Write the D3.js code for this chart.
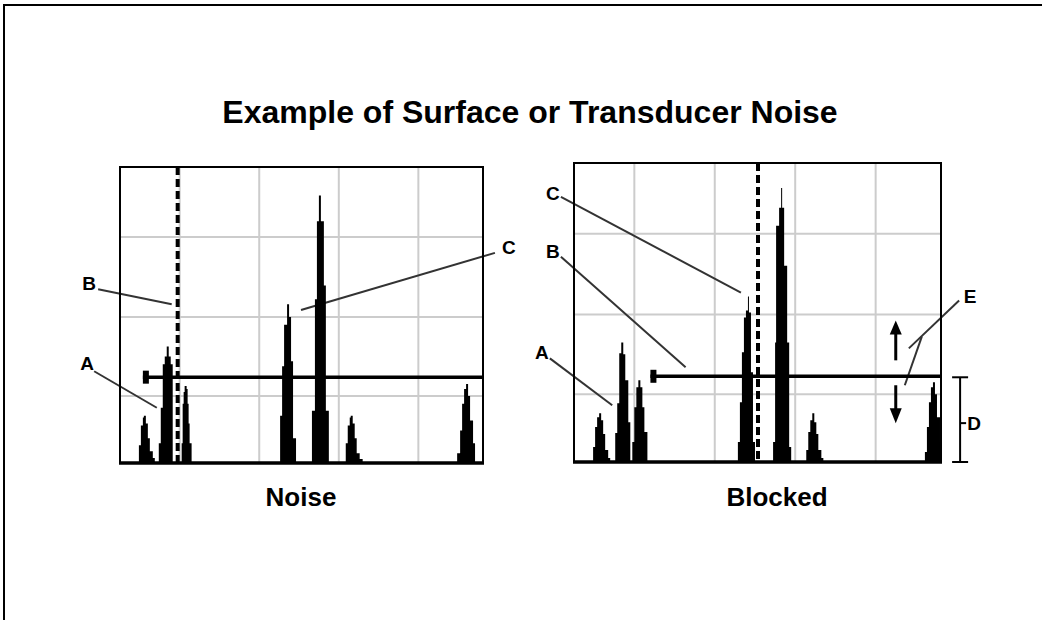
<!DOCTYPE html>
<html>
<head>
<meta charset="utf-8">
<script src="https://cdn.jsdelivr.net/npm/d3@7"></script>
<style>
  body { margin: 0; background: #fff; }
  svg text { font-family: Arial, "Liberation Sans", sans-serif; font-weight: bold; fill: #000; }
</style>
</head>
<body>
<svg width="1042" height="620"></svg>
<script>
// echo traces, x = sample position, y = amplitude (0..300)
var gridX = [60, 140, 220, 300];
var gridY = [68, 148, 229];

var noisePeaks = [
    [[19, 18], [21, 38], [23, 46], [24, 48], [26, 40], [28, 25], [30, 12], [33, 5], [35, 0]],
    [[39, 20], [41, 56], [43, 100], [45, 108], [47, 118], [49, 108], [51, 100], [53, 0]],
    [[62, 20], [63, 60], [64, 72], [65, 78], [67, 75], [68, 60], [69, 40], [70, 20], [72, 0]],
    [[161, 48], [163, 98], [165, 140], [168, 161], [170, 148], [172, 103], [174, 25], [177, 0]],
    [[193, 53], [196, 166], [198, 245], [200, 271], [202, 245], [205, 180], [207, 53], [210, 0]],
    [[227, 20], [229, 38], [231, 46], [232, 48], [234, 40], [236, 25], [238, 10], [241, 4], [244, 0]],
    [[339, 10], [342, 33], [344, 60], [346, 75], [348, 80], [350, 68], [352, 43], [355, 20], [357, 0]]
];

var blockedPeaks = [
    [[19, 15], [21, 35], [23, 45], [25, 49], [27, 42], [29, 28], [31, 12], [34, 4], [36, 0]],
    [[41, 29], [43, 59], [45, 109], [47, 120], [49, 108], [51, 82], [54, 40], [56, 0]],
    [[58, 20], [60, 55], [62, 75], [64, 82], [66, 75], [68, 55], [70, 30], [73, 0]],
    [[163, 20], [165, 60], [167, 110], [169, 145], [171, 152], [173, 166], [174, 150], [176, 90], [178, 20], [180, 0]],
    [[198, 20], [200, 120], [201, 237], [204, 255], [206, 275], [207, 255], [209, 197], [212, 120], [214, 15], [216, 0]],
    [[231, 12], [233, 30], [235, 42], [237, 49], [239, 40], [241, 28], [243, 12], [246, 4], [248, 0]],
    [[349, 10], [351, 35], [353, 60], [355, 75], [357, 80], [359, 68], [361, 45], [364, 20], [366, 0]]
];

// threshold line: [start, level], B line position
var noiseThreshold = [23, 87];
var blockedThreshold = [76, 86];
var noiseMarker = 58;
var blockedMarker = 183;

var titleText = "Example of Surface or Transducer Noise";
var panelNames = ["Noise", "Blocked"];

var svg = d3.select("svg");

// outer frame
svg.append("path")
    .attr("d", "M1042,5H4V620")
    .attr("fill", "none")
    .attr("stroke", "#000")
    .attr("stroke-width", 2);

svg.append("text")
    .attr("x", 530)
    .attr("y", 123)
    .attr("text-anchor", "middle")
    .attr("font-size", 32)
    .text(titleText);

var panels = [
    {
        name: panelNames[0], xr: [120, 483], yr: [463, 167], labelX: 301,
        peaks: noisePeaks, threshold: noiseThreshold, marker: noiseMarker,
        notes: [
            {t: "A", at: [-33, 101], from: [-26, 93], to: [37, 56]},
            {t: "B", at: [-31, 182], from: [-22, 176], to: [52, 161]},
            {t: "C", at: [391, 219], from: [377, 213], to: [182, 155]}
        ]
    },
    {
        name: panelNames[1], xr: [574, 941], yr: [462, 163], labelX: 777,
        peaks: blockedPeaks, threshold: blockedThreshold, marker: blockedMarker,
        notes: [
            {t: "A", at: [-32, 110], from: [-24, 104], to: [38, 57]},
            {t: "B", at: [-21, 211], from: [-13, 206], to: [111, 95]},
            {t: "C", at: [-21, 270], from: [-13, 266], to: [166, 170]},
            {t: "E", at: [394, 166], from: [383, 162], to: [333, 114]},
            {t: "", at: null, from: [346, 126], to: [329, 77]}
        ]
    }
];

panels.forEach(function (p) {
    var x = d3.scaleLinear().domain([0, 365]).range(p.xr);
    var y = d3.scaleLinear().domain([0, 300]).range(p.yr);
    var g = svg.append("g");

    // grid
    g.selectAll("line.gx").data(gridX).enter().append("line")
        .attr("x1", function (d) { return x(d); })
        .attr("x2", function (d) { return x(d); })
        .attr("y1", y(300)).attr("y2", y(0))
        .attr("stroke", "#cccccc").attr("stroke-width", 2);
    g.selectAll("line.gy").data(gridY).enter().append("line")
        .attr("y1", function (d) { return y(d); })
        .attr("y2", function (d) { return y(d); })
        .attr("x1", x(0)).attr("x2", x(365))
        .attr("stroke", "#cccccc").attr("stroke-width", 2);

    // leader lines
    g.selectAll("line.lead").data(p.notes).enter().append("line")
        .attr("x1", function (d) { return x(d.from[0]); })
        .attr("y1", function (d) { return y(d.from[1]); })
        .attr("x2", function (d) { return x(d.to[0]); })
        .attr("y2", function (d) { return y(d.to[1]); })
        .attr("stroke", "#333").attr("stroke-width", 2);

    g.selectAll("text.note").data(p.notes.filter(function (d) { return d.t; }))
        .enter().append("text")
        .attr("x", function (d) { return x(d.at[0]); })
        .attr("y", function (d) { return y(d.at[1]); })
        .attr("dy", "0.35em")
        .attr("text-anchor", "middle")
        .attr("font-size", 19)
        .text(function (d) { return d.t; });

    // echoes
    var area = d3.area()
        .curve(d3.curveStepAfter)
        .x(function (d) { return x(d[0]); })
        .y0(y(0))
        .y1(function (d) { return y(d[1]); });
    g.selectAll("path.peak").data(p.peaks).enter().append("path")
        .attr("d", area)
        .attr("fill", "#000");

    // dashed B line
    g.append("line")
        .attr("x1", x(p.marker)).attr("x2", x(p.marker))
        .attr("y1", y(300)).attr("y2", y(0))
        .attr("stroke", "#000").attr("stroke-width", 4)
        .attr("stroke-dasharray", "8,4");

    // threshold line with end marker
    g.append("line")
        .attr("x1", x(p.threshold[0])).attr("x2", x(365))
        .attr("y1", y(p.threshold[1])).attr("y2", y(p.threshold[1]))
        .attr("stroke", "#000").attr("stroke-width", 3.5);
    g.append("rect")
        .attr("x", x(p.threshold[0]))
        .attr("y", y(p.threshold[1]) - 6.5)
        .attr("width", 6).attr("height", 13)
        .attr("fill", "#000");

    // panel border
    g.append("rect")
        .attr("x", x(0)).attr("y", y(300))
        .attr("width", x(365) - x(0)).attr("height", y(0) - y(300))
        .attr("fill", "none").attr("stroke", "#000").attr("stroke-width", 2);
    g.append("line")
        .attr("x1", x(0) - 1).attr("x2", x(365) + 1)
        .attr("y1", y(0)).attr("y2", y(0))
        .attr("stroke", "#000").attr("stroke-width", 3.5);

    svg.append("text")
        .attr("x", p.labelX)
        .attr("y", 506)
        .attr("text-anchor", "middle")
        .attr("font-size", 26)
        .text(p.name);

    if (p.name === "Blocked") {
        // arrows
        var ax = x(320);
        g.append("line").attr("x1", ax).attr("x2", ax)
            .attr("y1", y(102)).attr("y2", y(130))
            .attr("stroke", "#000").attr("stroke-width", 3);
        g.append("path")
            .attr("d", "M" + (ax - 6) + "," + y(128) + "L" + ax + "," + y(142) + "L" + (ax + 6) + "," + y(128) + "Z")
            .attr("fill", "#000");
        g.append("line").attr("x1", ax).attr("x2", ax)
            .attr("y1", y(77)).attr("y2", y(52))
            .attr("stroke", "#000").attr("stroke-width", 3);
        g.append("path")
            .attr("d", "M" + (ax - 6) + "," + y(54) + "L" + ax + "," + y(39) + "L" + (ax + 6) + "," + y(54) + "Z")
            .attr("fill", "#000");

        // D bracket
        var bx = x(384);
        g.append("line").attr("x1", bx).attr("x2", bx)
            .attr("y1", y(85)).attr("y2", y(0))
            .attr("stroke", "#000").attr("stroke-width", 2);
        [85, 0].forEach(function (v) {
            g.append("line").attr("x1", bx - 8).attr("x2", bx + 8)
                .attr("y1", y(v)).attr("y2", y(v))
                .attr("stroke", "#000").attr("stroke-width", 2);
        });
        g.append("line").attr("x1", bx).attr("x2", bx + 6)
            .attr("y1", y(39)).attr("y2", y(39))
            .attr("stroke", "#000").attr("stroke-width", 2);
        g.append("text")
            .attr("x", x(391)).attr("y", y(39))
            .attr("dy", "0.35em")
            .attr("font-size", 19)
            .text("D");
    }
});
</script>
</body>
</html>
